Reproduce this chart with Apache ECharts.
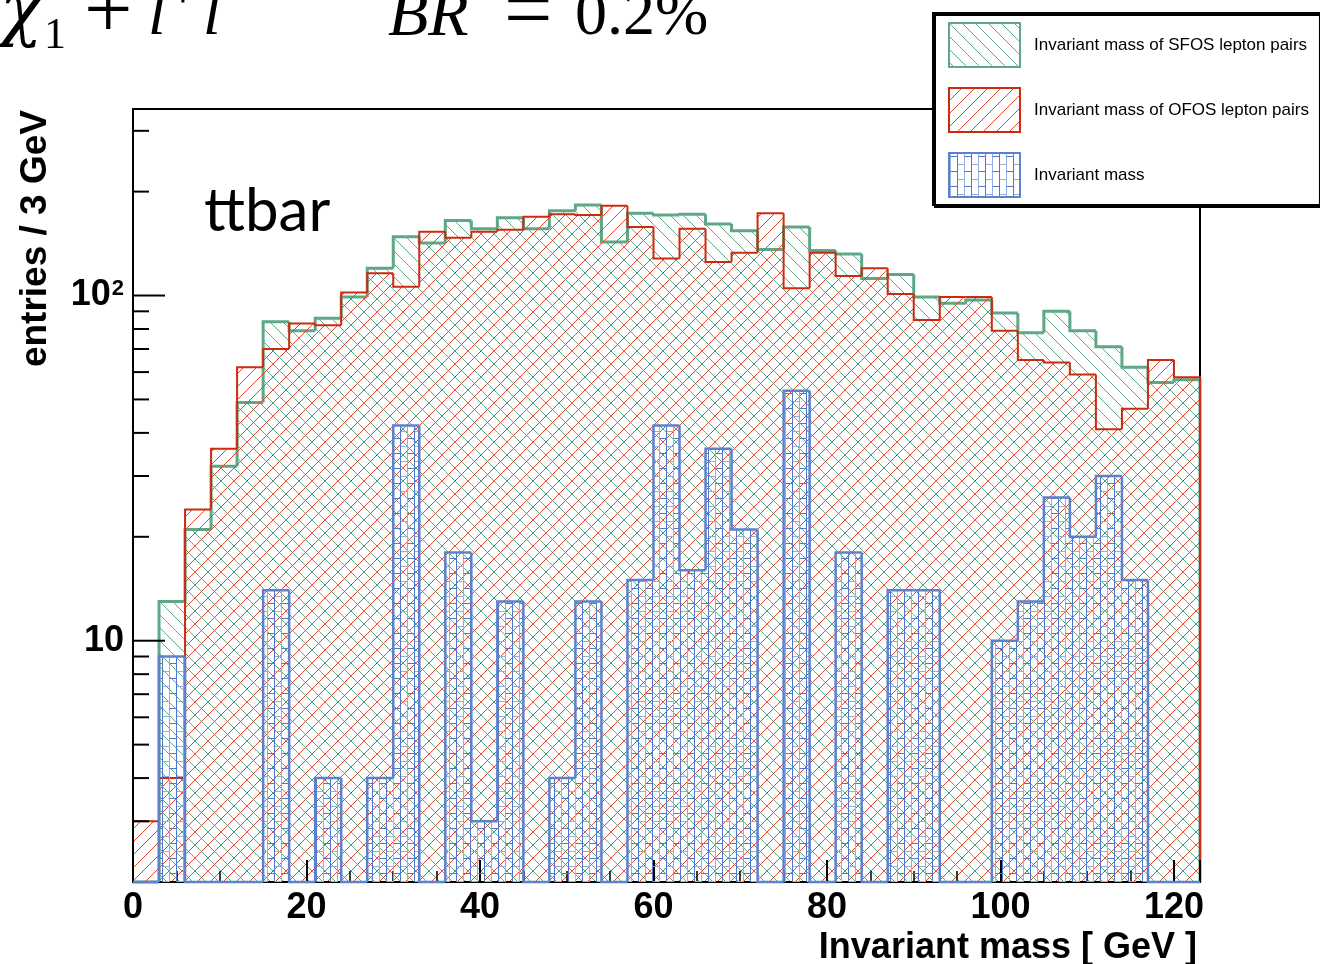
<!DOCTYPE html>
<html>
<head>
<meta charset="utf-8">
<title>ttbar invariant mass</title>
<script src="https://cdn.jsdelivr.net/npm/echarts@6.0.0/dist/echarts.min.js"></script>
<style>
  html, body { margin: 0; padding: 0; background: #fff; }
  #main { width: 1320px; height: 964px; }
</style>
</head>
<body>
<div id="main"></div>
<script>
  // 41 bins of 3 GeV, starting at 0
  var binWidth = 3;
  var sfosCounts = [0, 13, 21, 32, 49, 84, 79, 86, 99, 120, 148, 142, 165, 156, 168, 156, 176, 183, 143, 173, 171,
    172, 161, 154, 136, 158, 135, 132, 112, 115, 99, 95, 97, 89, 78, 90, 79, 71, 62, 56, 57];
  var ofosCounts = [3, 4, 24, 36, 62, 70, 83, 82, 102, 116, 106, 153, 147, 153, 155, 169, 172, 171, 182, 158, 128,
    156, 125, 133, 173, 105, 133, 114, 120, 101, 85, 99, 99, 79, 65, 64, 59, 41, 47, 65, 58];
  var massCounts = [0, 9, 0, 0, 0, 14, 0, 4, 0, 4, 42, 0, 18, 3, 13, 0, 4, 13, 0, 15, 42,
    16, 36, 21, 0, 53, 0, 18, 0, 14, 14, 0, 0, 10, 13, 26, 20, 30, 15, 0, 0];
  var seriesNames = ['Invariant mass of SFOS lepton pairs', 'Invariant mass of OFOS lepton pairs', 'Invariant mass'];
  var xLabelValues = [0, 20, 40, 60, 80, 100, 120];
  var yMajorTicks = [10, 100];
  var yMinorTicks = [3, 4, 5, 6, 7, 8, 9, 20, 30, 40, 50, 60, 70, 80, 90, 200, 300];
  var yMin = 2, yMax = 347;
  var xMax = sfosCounts.length * binWidth;

  var sans = '"Liberation Sans", Arial, Helvetica, sans-serif';
  var serif = '"Liberation Serif", "DejaVu Serif", serif';

  // diagonal hatch, dir 1 = '/', dir -1 = '\'
  function hatch(color, dir) {
    var s = 13;
    var c = document.createElement('canvas');
    c.width = s; c.height = s;
    var ctx = c.getContext('2d');
    ctx.strokeStyle = color;
    ctx.lineWidth = 1;
    ctx.beginPath();
    if (dir > 0) {
      ctx.moveTo(-2, s + 2); ctx.lineTo(s + 2, -2);
      ctx.moveTo(-2, 2); ctx.lineTo(2, -2);
      ctx.moveTo(s - 2, s + 2); ctx.lineTo(s + 2, s - 2);
    } else {
      ctx.moveTo(-2, -2); ctx.lineTo(s + 2, s + 2);
      ctx.moveTo(s - 2, -2); ctx.lineTo(s + 2, 2);
      ctx.moveTo(-2, s - 2); ctx.lineTo(2, s + 2);
    }
    ctx.stroke();
    return { image: c, repeat: 'repeat' };
  }

  // brick-like pattern of the blue histogram
  function bricks(dark, light) {
    var w = 14, h = 15;
    var c = document.createElement('canvas');
    c.width = w; c.height = h;
    var ctx = c.getContext('2d');
    ctx.lineWidth = 1;
    ctx.strokeStyle = light;
    ctx.beginPath();
    ctx.moveTo(1.5, 0); ctx.lineTo(1.5, h);
    ctx.moveTo(8.5, 11.5); ctx.lineTo(w, 11.5);
    ctx.moveTo(0, 11.5); ctx.lineTo(1.5, 11.5);
    ctx.stroke();
    ctx.strokeStyle = dark;
    ctx.beginPath();
    ctx.moveTo(8.5, 0); ctx.lineTo(8.5, h);
    ctx.moveTo(1.5, 3.5); ctx.lineTo(8.5, 3.5);
    ctx.stroke();
    return { image: c, repeat: 'repeat' };
  }

  var greenLine = '#5ea886', redLine = '#cc2b10', blueLine = '#5b82ca';
  var sfosFill = hatch('#63aa8a', -1);
  var ofosFill = hatch('#e2452a', 1);
  var massFill = bricks('#4f78c6', '#97afe0');

  function histSeries(name, counts, fill, line, width, z) {
    return {
      name: name,
      type: 'custom',
      coordinateSystem: 'cartesian2d',
      z: z,
      silent: true,
      encode: { x: [0, 1], y: 2 },
      itemStyle: { color: fill, borderColor: line },
      data: counts.map(function (v, i) {
        return [i * binWidth, (i + 1) * binWidth, v > 0 ? v : null];
      }),
      renderItem: function (params, api) {
        var i = params.dataIndex;
        var v = api.value(2);
        var base = api.coord([api.value(0), yMin]);
        var xl = base[0];
        var xr = api.coord([api.value(1), yMin])[0];
        var yOf = function (c) { return c > 0 ? api.coord([0, c])[1] : base[1]; };
        var y = yOf(v);
        var yPrev = i > 0 ? yOf(counts[i - 1]) : base[1];
        var pts = [[xl, yPrev], [xl, y], [xr, y]];
        if (i === counts.length - 1) pts.push([xr, base[1]]);
        var children = [];
        if (v > 0) {
          children.push({
            type: 'rect',
            shape: { x: xl, y: y, width: xr - xl, height: base[1] - y },
            style: { fill: fill, stroke: 'none' }
          });
        }
        children.push({
          type: 'polyline',
          shape: { points: pts },
          style: { stroke: line, lineWidth: width, fill: 'none', lineJoin: 'miter' }
        });
        return { type: 'group', children: children };
      }
    };
  }

  var myChart = echarts.init(document.getElementById('main'), null, { renderer: 'canvas' });

  var option = {
    backgroundColor: '#fff',
    animation: false,
    grid: {
      left: 133, right: 120, top: 109, bottom: 82,
      show: true, borderColor: '#000', borderWidth: 2, backgroundColor: 'transparent'
    },
    legend: {
      orient: 'vertical',
      left: 933, top: 13,
      padding: [9, 11, 7, 15],
      itemWidth: 71, itemHeight: 44, itemGap: 19,
      backgroundColor: '#fff',
      borderColor: '#000', borderWidth: 2,
      shadowColor: '#000', shadowBlur: 0, shadowOffsetX: 2, shadowOffsetY: 2,
      selectedMode: false,
      z: 20,
      textStyle: { fontFamily: sans, fontSize: 17, color: '#000', padding: [0, 0, 0, 9] },
      data: [
        { name: seriesNames[0], icon: 'rect', itemStyle: { color: sfosFill, borderColor: greenLine, borderWidth: 2 } },
        { name: seriesNames[1], icon: 'rect', itemStyle: { color: ofosFill, borderColor: redLine, borderWidth: 2 } },
        { name: seriesNames[2], icon: 'rect', itemStyle: { color: massFill, borderColor: blueLine, borderWidth: 2 } }
      ]
    },
    xAxis: {
      type: 'value',
      min: 0, max: xMax, interval: 20,
      z: 3,
      axisLine: { show: true, lineStyle: { color: '#000', width: 2 } },
      axisTick: { show: true, inside: true, length: 22, lineStyle: { color: '#000', width: 2 } },
      minorTick: { show: true, splitNumber: 4, length: 11, lineStyle: { color: '#000', width: 1.5 } },
      splitLine: { show: false },
      axisLabel: {
        margin: 8,
        fontFamily: sans, fontWeight: 'bold', fontSize: 36, color: '#000',
        formatter: function (v) { return xLabelValues.indexOf(v) >= 0 ? String(v) : ''; }
      }
    },
    yAxis: {
      type: 'log', logBase: 10,
      min: yMin, max: yMax,
      z: 3,
      axisLine: { show: true, lineStyle: { color: '#000', width: 2 } },
      axisTick: { show: false },
      splitLine: { show: false },
      axisLabel: {
        margin: 9,
        fontFamily: sans, fontWeight: 'bold', fontSize: 36, color: '#000',
        formatter: function (v) {
          if (Math.abs(v - 10) < 1e-6) return '{b|10}';
          if (Math.abs(v - 100) < 1e-6) return '{b|10}{s|2}';
          return '';
        },
        rich: {
          b: { fontFamily: sans, fontWeight: 'bold', fontSize: 36, color: '#000' },
          s: { fontFamily: sans, fontWeight: 'bold', fontSize: 22, color: '#000', verticalAlign: 'top', padding: [0, 0, 0, 1] }
        }
      }
    },
    series: [
      histSeries(seriesNames[0], sfosCounts, sfosFill, greenLine, 3, 2),
      histSeries(seriesNames[1], ofosCounts, ofosFill, redLine, 2, 2),
      histSeries(seriesNames[2], massCounts, massFill, blueLine, 2.5, 4),
      {
        // y axis tick marks (log decades and sub-decades)
        type: 'custom',
        z: 6,
        silent: true,
        encode: { x: 0, y: 1 },
        data: yMajorTicks.concat(yMinorTicks).map(function (v) { return [0, v]; }),
        renderItem: function (params, api) {
          var v = api.value(1);
          var p = api.coord([0, v]);
          var len = yMajorTicks.indexOf(v) >= 0 ? 32 : 16;
          return {
            type: 'line',
            shape: { x1: p[0], y1: p[1], x2: p[0] + len, y2: p[1] },
            style: { stroke: '#000', lineWidth: 2 }
          };
        }
      }
    ],
    graphic: [
      {
        type: 'text', x: 36, y: 110, rotation: Math.PI / 2,
        style: { text: 'entries / 3 GeV', font: 'bold 37px ' + sans, fill: '#000', align: 'right', verticalAlign: 'middle' }
      },
      {
        type: 'text', x: 1197, y: 930,
        style: { text: 'Invariant mass [ GeV ]', font: 'bold 36px ' + sans, fill: '#000', align: 'right', verticalAlign: 'top' }
      },
      {
        type: 'text', x: 204, y: 182,
        style: { text: 'ttbar', font: '60px Lato, "Open Sans", sans-serif', fill: '#000', align: 'left', verticalAlign: 'top' }
      },
      { type: 'text', x: 0, y: -20, style: { text: 'χ', font: 'italic 70px "DejaVu Serif", serif', fill: '#000', verticalAlign: 'top' } },
      { type: 'text', x: 44, y: 14, style: { text: '1', font: '44px ' + serif, fill: '#000', verticalAlign: 'top' } },
      { type: 'text', x: 46, y: -34, style: { text: '0', font: '44px ' + serif, fill: '#000', verticalAlign: 'top' } },
      { type: 'text', x: 84, y: -28, style: { text: '+', font: '86px ' + serif, fill: '#000', verticalAlign: 'top' } },
      { type: 'text', x: 148, y: -15, style: { text: 'l', font: 'italic 64px ' + serif, fill: '#000', verticalAlign: 'top' } },
      { type: 'text', x: 166, y: -38, style: { text: '+', font: '60px ' + serif, fill: '#000', verticalAlign: 'top' } },
      { type: 'text', x: 203, y: -15, style: { text: 'l', font: 'italic 64px ' + serif, fill: '#000', verticalAlign: 'top' } },
      { type: 'text', x: 224, y: -40, style: { text: '−', font: '60px ' + serif, fill: '#000', verticalAlign: 'top' } },
      { type: 'text', x: 388, y: -15, style: { text: 'BR', font: 'italic 66px ' + serif, fill: '#000', verticalAlign: 'top' } },
      { type: 'text', x: 504, y: -28, style: { text: '=', font: '86px ' + serif, fill: '#000', verticalAlign: 'top' } },
      { type: 'text', x: 575, y: -15, style: { text: '0.2%', font: '64px ' + serif, fill: '#000', verticalAlign: 'top' } }
    ]
  };

  myChart.setOption(option);
  window.addEventListener('resize', myChart.resize);
</script>
</body>
</html>
